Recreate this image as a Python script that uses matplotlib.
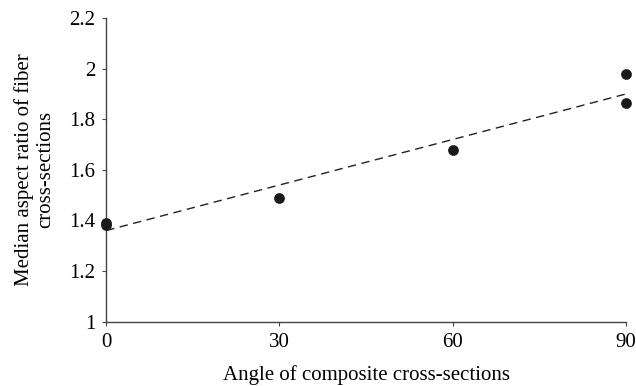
import numpy as np
import matplotlib
matplotlib.use("Agg")
import matplotlib.pyplot as plt

# data
angle = [0, 0, 30, 60, 90, 90]
aspect = [1.39, 1.38, 1.49, 1.68, 1.98, 1.865]

# linear trend line end points
trend_x = [0, 90]
trend_y = [1.36, 1.90]

xticks = [0, 30, 60, 90]
yticks = [1, 1.2, 1.4, 1.6, 1.8, 2, 2.2]
ytick_labels = ["1", "1.2", "1.4", "1.6", "1.8", "2", "2.2"]

plt.rcParams["font.family"] = ["Liberation Serif", "DejaVu Serif"]

fig = plt.figure(figsize=(6.36, 3.86), dpi=100)
ax = fig.add_axes([0.167, 0.167, 0.817, 0.786])

ax.plot(trend_x, trend_y, linestyle=(0, (6, 4)), color="#222222", linewidth=1.0)
ax.scatter(angle, aspect, s=45, color="#1a1a1a", zorder=3, clip_on=False)

ax.set_xlim(0, 90)
ax.set_ylim(1, 2.2)
ax.set_xticks(xticks)
ax.set_yticks(yticks)
ax.set_yticklabels(ytick_labels)

for s in ["top", "right"]:
    ax.spines[s].set_visible(False)
for s in ["left", "bottom"]:
    ax.spines[s].set_color("#444444")
    ax.spines[s].set_linewidth(1.0)

ax.tick_params(direction="out", length=3, width=0.8, color="#444444",
               labelsize=15, pad=5)

ax.set_xlabel("Angle of composite cross-sections", fontsize=15, labelpad=10)
ax.set_ylabel("Median aspect ratio of fiber\ncross-sections", fontsize=15,
              labelpad=10, linespacing=1.15)

fig.savefig("out.png", dpi=100)
